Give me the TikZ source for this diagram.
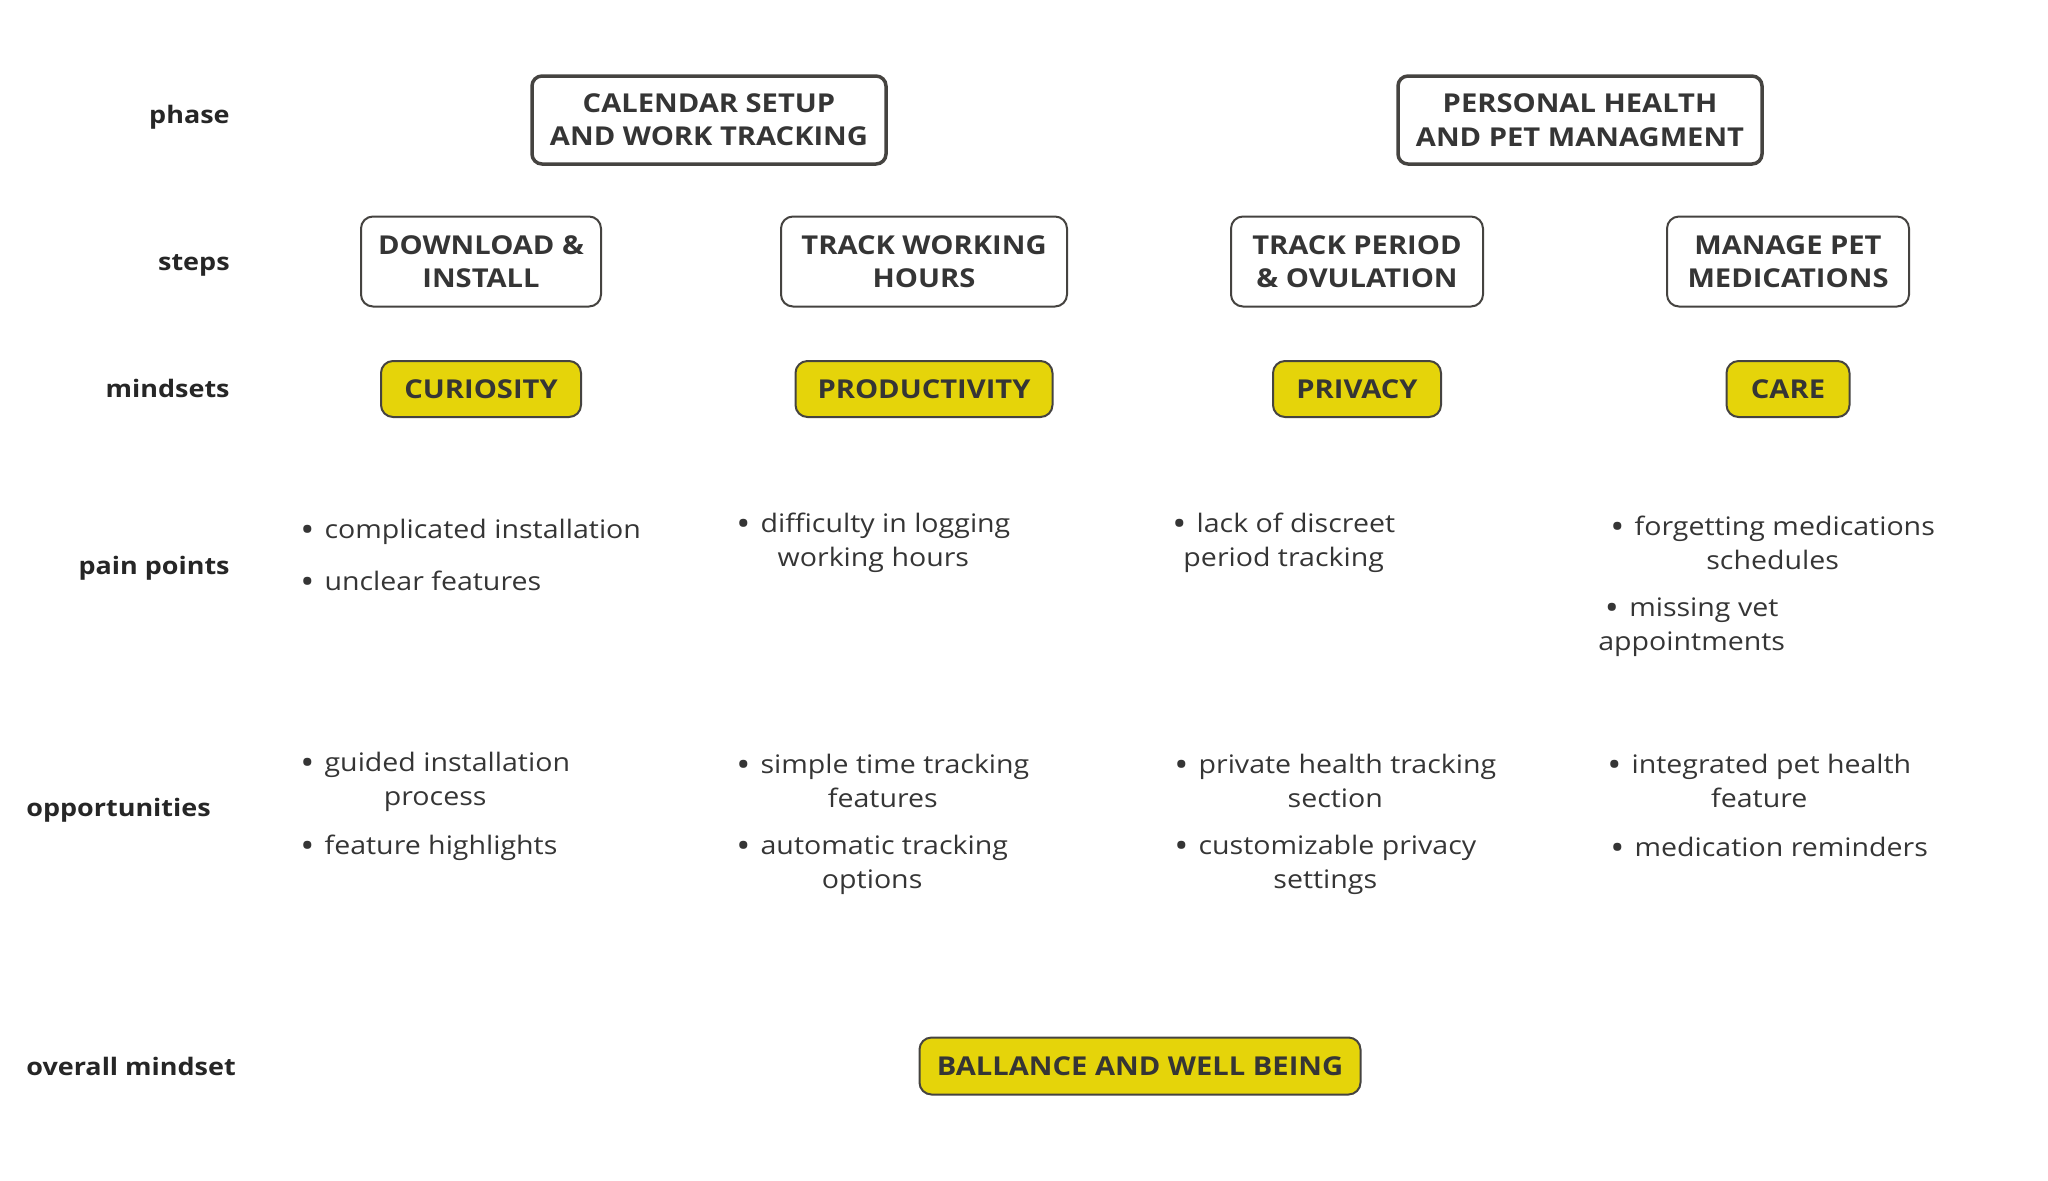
\documentclass[tikz,border=0pt]{standalone}
\usepackage{fontspec}
\setmainfont{Open Sans}[FakeStretch=1.12]
\usetikzlibrary{positioning}
\definecolor{ink}{HTML}{454340}
\definecolor{txt}{HTML}{353535}
\definecolor{lbl}{HTML}{262626}
\definecolor{hilite}{HTML}{E5D40A}
\tikzset{
  phasebox/.style={draw=ink,line width=0.7mm,rounded corners=2mm,align=center,text=txt,
    font=\fontsize{14.8}{19}\selectfont\bfseries,minimum height=17.6mm,inner sep=0pt},
  stepbox/.style={draw=ink,line width=0.4mm,rounded corners=2.4mm,align=center,text=txt,
    font=\fontsize{14.8}{19}\selectfont\bfseries,minimum height=18mm,inner sep=0pt},
  mindbox/.style={draw=ink,fill=hilite,line width=0.4mm,rounded corners=2.4mm,text=txt,
    font=\fontsize{14.8}{19}\selectfont\bfseries,minimum height=11.2mm,inner sep=0pt},
  rowlabel/.style={text=lbl,font=\fontsize{13.7}{19}\selectfont\bfseries,inner sep=0pt},
  item/.style={anchor=west,align=center,text=txt,font=\fontsize{14.5}{19.6}\selectfont,inner sep=0pt}
}
\newcommand{\bul}{\raisebox{-1.8pt}{\fontsize{19}{19.6}\selectfont\textbullet}\hspace{0.4em}}
\begin{document}
\begin{tikzpicture}[x=0.2mm,y=-0.2mm]
\useasboundingbox (0,0) rectangle (2048,1180);

% row labels
\node[rowlabel,anchor=east] (lphase) at (230,117) {phase};
\node[rowlabel,anchor=east] (lsteps) at (230,265) {steps};
\node[rowlabel,anchor=east] (lmind) at (230,388) {mindsets};
\node[rowlabel,anchor=east] (lpain) at (230,568) {pain points};
\node[rowlabel,anchor=west] (lopp) at (26,810) {opportunities};
\node[rowlabel,anchor=west] (lall) at (26,1066) {overall mindset};

% phases
\node[phasebox,minimum width=70.8mm] (cal) at (709,120) {CALENDAR SETUP\\AND WORK TRACKING};
\node[phasebox,minimum width=72.8mm] (pers) at (1580,120) {PERSONAL HEALTH\\AND PET MANAGMENT};

% steps
\node[stepbox,minimum width=48mm] (dl) at (481,261.5) {DOWNLOAD \&\\INSTALL};
\node[stepbox,minimum width=57.2mm] (work) at (924,261.5) {TRACK WORKING\\HOURS};
\node[stepbox,minimum width=50.4mm] (period) at (1357,261.5) {TRACK PERIOD\\\& OVULATION};
\node[stepbox,minimum width=48.4mm] (pet) at (1788,261.5) {MANAGE PET\\MEDICATIONS};

% mindsets
\node[mindbox,minimum width=40mm,below=10.5mm of dl] (cur) {CURIOSITY};
\node[mindbox,minimum width=51.4mm,below=10.5mm of work] (prod) {PRODUCTIVITY};
\node[mindbox,minimum width=33.6mm,below=10.5mm of period] (priv) {PRIVACY};
\node[mindbox,minimum width=24.6mm,below=10.5mm of pet] (care) {CARE};

% pain points
\node[item] (p1a) at (300,532) {\bul complicated installation};
\node[item] (p1b) at (300,582) {\bul unclear features};
\node[item] (p2a) at (736,543) {\bul difficulty in logging\\working hours};
\node[item] (p3a) at (1172,543) {\bul lack of discreet\\period tracking};
\node[item] (p4a) at (1610,543) {\bul forgetting medications\\schedules};
\node[item] (p4b) at (1598,627) {\bul missing vet\\appointments};

% opportunities
\node[item] (o1a) at (300,782) {\bul guided installation\\process};
\node[item] (o1b) at (300,848) {\bul feature highlights};
\node[item] (o2a) at (736,781) {\bul simple time tracking\\features};
\node[item] (o2b) at (736,865) {\bul automatic tracking\\options};
\node[item] (o3a) at (1174,781) {\bul private health tracking\\section};
\node[item] (o3b) at (1174,865) {\bul customizable privacy\\settings};
\node[item] (o4a) at (1607,781) {\bul integrated pet health\\feature};
\node[item] (o4b) at (1610,848) {\bul medication reminders};

% overall
\node[mindbox,minimum width=88.2mm,minimum height=11.4mm] (bal) at (1140,1066) {BALLANCE AND WELL BEING};
\end{tikzpicture}
\end{document}
